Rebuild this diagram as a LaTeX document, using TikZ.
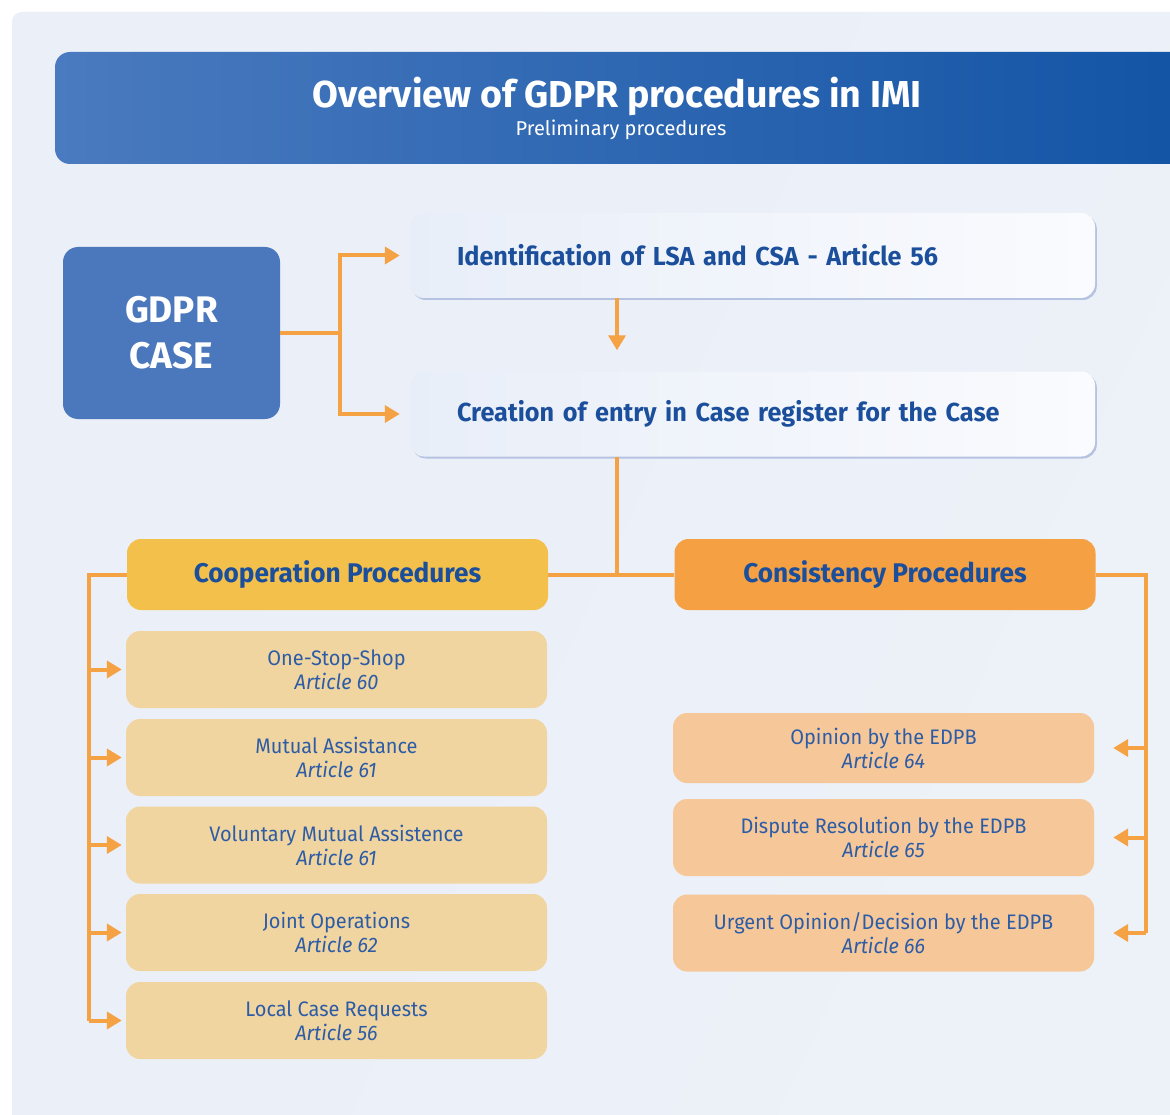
\documentclass[tikz,border=0pt]{standalone}
\usepackage{fontspec}
\setmainfont{Fira Sans}
\newfontfamily\hdfont{Fira Sans}[FakeStretch=0.97]
\newfontfamily\bdfont{Fira Sans}[FakeStretch=0.95]
\usetikzlibrary{arrows.meta,shadows}
\definecolor{bgA}{HTML}{EAEFF8}
\definecolor{bgB}{HTML}{FDFDFE}
\definecolor{bgC}{HTML}{EDF1F8}
\definecolor{hdL}{HTML}{4A7ABF}
\definecolor{hdR}{HTML}{1254A5}
\definecolor{caseblue}{HTML}{4B77BD}
\definecolor{orangeline}{HTML}{F5A244}
\definecolor{headtext}{HTML}{1B4F9C}
\definecolor{itemtext}{HTML}{2D5CA6}
\definecolor{coopfill}{HTML}{F3C14B}
\definecolor{consfill}{HTML}{F4A043}
\definecolor{litem}{HTML}{F0D5A0}
\definecolor{ritem}{HTML}{F6C899}
\definecolor{preL}{HTML}{E8EEF8}
\definecolor{preR}{HTML}{FAFBFE}
\definecolor{preshadow}{HTML}{B6C2E2}
\tikzset{
  casebox/.style={fill=caseblue, rounded corners=15pt, minimum width=217pt, minimum height=172pt,
    text=white, align=center, font=\bfseries\fontsize{37}{46}\selectfont},
  prebox/.style={left color=preL, right color=preR, rounded corners=14pt,
    drop shadow={shadow xshift=1.8pt, shadow yshift=-2pt, fill=preshadow, opacity=1},
    minimum height=85pt, text width=591pt, inner xsep=47pt, align=left,
    text=headtext, font=\hdfont\bfseries\fontsize{26}{30}\selectfont},
  procbox/.style={rounded corners=14pt, minimum width=421pt, minimum height=71pt,
    text=headtext, font=\hdfont\bfseries\fontsize{27}{30}\selectfont},
  itembox/.style={rounded corners=14pt, minimum width=421pt, minimum height=77pt,
    text=itemtext, align=center, font=\bdfont\fontsize{21}{24}\selectfont},
  conn/.style={draw=orangeline, line width=4pt},
  arr/.style={conn, -{Triangle[length=15pt,width=17pt]}},
}
\begin{document}
\begin{tikzpicture}[x=1pt,y=-1pt]
\useasboundingbox (0,0) rectangle (1170,1115);
\fill[white] (0,0) rectangle (1170,1115);
\shade[rounded corners=10pt, left color=bgA, middle color=bgB, right color=bgC, shading angle=65]
  (12,12) rectangle (1190,1135);
\shade[rounded corners=15pt, left color=hdL, right color=hdR] (55,52) rectangle (1200,164);
\node[text=white, font=\bfseries\fontsize{37.5}{40}\selectfont] (title) at (617,96) {Overview of GDPR procedures in IMI};
\node[text=white, font=\fontsize{20}{22}\selectfont] (sub) at (621,130) {Preliminary procedures};

\node[casebox] (gdpr) at (171.5,333) {GDPR\\CASE};
\node[prebox] (ident) at (752.5,255.5) {Identification of LSA and CSA - Article 56};
\node[prebox] (creat) at (752.5,414) {Creation of entry in Case register for the Case};

\node[procbox, fill=coopfill] (coop) at (337.5,574.5) {Cooperation Procedures};
\node[procbox, fill=consfill] (cons) at (885,574.5) {Consistency Procedures};

\node[itembox, fill=litem] (l1) at (336.5,669.5) {One-Stop-Shop\\\textit{Article 60}};
\node[itembox, fill=litem] (l2) at (336.5,757.5) {Mutual Assistance\\\textit{Article 61}};
\node[itembox, fill=litem] (l3) at (336.5,845) {Voluntary Mutual Assistence\\\textit{Article 61}};
\node[itembox, fill=litem] (l4) at (336.5,932.5) {Joint Operations\\\textit{Article 62}};
\node[itembox, fill=litem] (l5) at (336.5,1020.5) {Local Case Requests\\\textit{Article 56}};

\node[itembox, fill=ritem, minimum height=70pt] (r1) at (883.5,748) {Opinion by the EDPB\\\textit{Article 64}};
\node[itembox, fill=ritem] (r2) at (883.5,837.5) {Dispute Resolution by the EDPB\\\textit{Article 65}};
\node[itembox, fill=ritem] (r3) at (883.5,933) {Urgent Opinion/Decision by the EDPB\\\textit{Article 66}};

% connectors
\coordinate (spl) at (340,333);
\draw[conn] (gdpr.east) -- (spl);
\draw[arr, shorten >=10pt] (spl) |- (ident.west);
\draw[arr, shorten >=10pt] (spl) |- (creat.west);
\coordinate (dx) at (617,0);
\draw[arr, shorten >=21pt] (ident.south -| dx) -- (creat.north -| dx);
\draw[conn] (creat.south -| dx) -- (coop.east -| dx);
\draw[conn] (coop.east) -- (cons.west);

\coordinate (lb) at (89,574.5);
\draw[conn] (coop.west) -- (lb) -- (lb |- l5.west);
\foreach \n in {l1,l2,l3,l4,l5}
  \draw[arr, shorten >=4pt] (lb |- \n.west) -- (\n.west);

\coordinate (rb) at (1146,574.5);
\draw[conn] (cons.east) -- (rb) -- (rb |- r3.east);
\foreach \n in {r1,r2,r3}
  \draw[arr, shorten >=19pt] (rb |- \n.east) -- (\n.east);
\end{tikzpicture}
\end{document}
